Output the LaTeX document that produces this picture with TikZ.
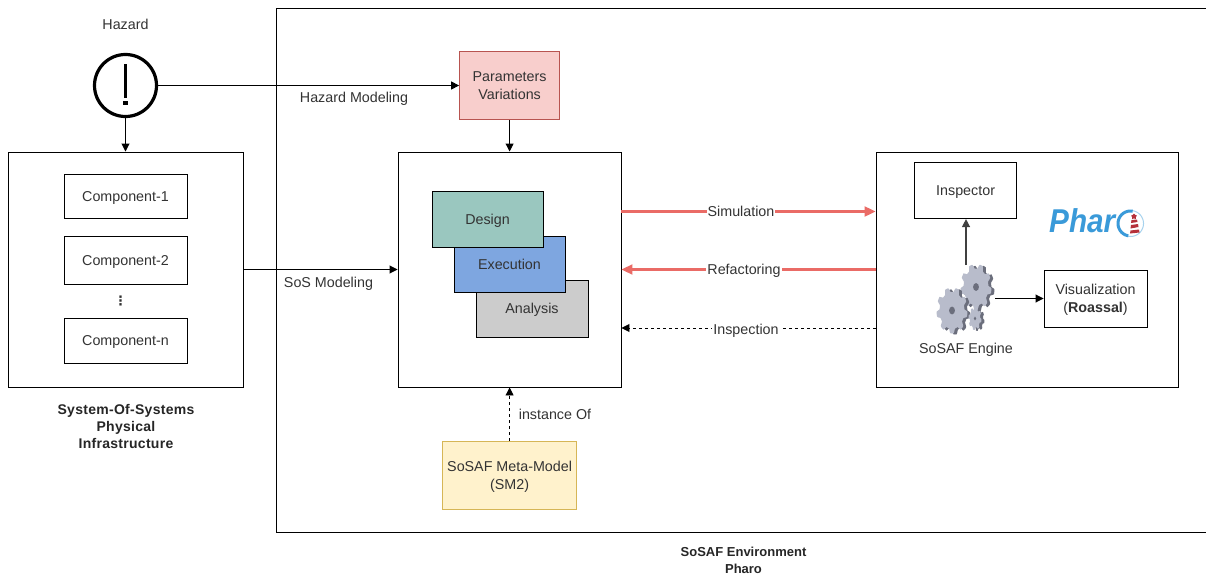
\documentclass[tikz,border=0pt]{standalone}
\usepackage{fontspec}
\usepackage{graphicx}
\setmainfont{Liberation Sans}
\usetikzlibrary{arrows.meta,shapes.geometric}
\definecolor{txt}{HTML}{333333}
\definecolor{redarrow}{HTML}{EA6B66}
\definecolor{gearfront}{HTML}{B8BCCB}
\definecolor{gearback}{HTML}{6B6E7C}
\definecolor{pharoblue}{HTML}{3A9AD9}
\definecolor{pinkfill}{HTML}{F8CECC}
\definecolor{pinkline}{HTML}{B85450}
\definecolor{yelfill}{HTML}{FFF2CC}
\definecolor{yelline}{HTML}{D6B656}
\definecolor{tealfill}{HTML}{9AC7BF}
\definecolor{bluefill}{HTML}{7EA6E0}
\definecolor{grayfill}{HTML}{CCCCCC}
\definecolor{lampred}{HTML}{B5303A}
\tikzset{
  px/.style={x=1pt,y=-1pt},
  lbl/.style={text=txt,font=\fontsize{14.3}{17}\selectfont,align=center,inner sep=0pt,text depth=0pt},
  captiontxt/.style={text=black!85,font=\fontsize{13}{17}\bfseries\selectfont,align=center,inner sep=0pt},
  boxn/.style={draw=black,line width=0.95pt,fill=white,inner sep=0pt,text=txt,font=\fontsize{14.3}{18}\selectfont,align=center,text depth=0pt},
  arr/.style={-{Triangle[length=8pt,width=8pt]},line width=0.95pt,black},
  redarr/.style={-{Triangle[length=11pt,width=10pt]},line width=2.2pt,redarrow},
  dasharr/.style={arr,dash pattern=on 3pt off 3pt},
  onarrow/.style={lbl,fill=white,inner xsep=1pt,inner ysep=0pt},
  gearanchor/.style={ellipse,inner sep=0pt,draw=none},
}
\newcommand{\gearshape}[5]{% cx cy rx ry teeth
  \fill[gearback] plot[domain=0:360,samples=121] ({#1+3+#3*(0.9+0.1*min(1,max(-1,2*sin(#5*\x))))*cos(\x)},{#2+1+#4*(0.9+0.1*min(1,max(-1,2*sin(#5*\x))))*sin(\x)}) -- cycle;
  \fill[gearfront] plot[domain=0:360,samples=121] ({#1+#3*(0.9+0.1*min(1,max(-1,2*sin(#5*\x))))*cos(\x)},{#2+#4*(0.9+0.1*min(1,max(-1,2*sin(#5*\x))))*sin(\x)}) -- cycle;
  \fill[gearback] (#1,#2) ellipse [x radius=#3*0.19,y radius=#4*0.17];
}
\begin{document}
\begin{tikzpicture}[px]
\useasboundingbox (0,0) rectangle (1206,575);
\fill[white] (0,0) rectangle (1206,575);

% environment frame, open at the right edge
\draw[line width=0.95pt,black] (1207,8) -- (276,8) -- (276,532) -- (1207,532);

% hazard
\node[lbl] (hazardlbl) at (125.5,24) {Hazard};
\node[circle,draw=black,line width=3.2pt,fill=white,minimum size=62pt,inner sep=0pt] (hazard) at (125.5,85.5) {};
\fill[black] (123.6,64) rectangle (127.4,98);
\fill[black] (123.4,101.5) rectangle (127.6,105.5);

% left box
\node[boxn,minimum width=235pt,minimum height=235pt] (sos) at (125.5,269.5) {};
\node[boxn,minimum width=123pt,minimum height=44pt] (c1) at (125.5,196) {\raisebox{-0.8pt}{Component-1}};
\node[boxn,minimum width=123pt,minimum height=48pt] (c2) at (125.5,260) {\raisebox{-0.8pt}{Component-2}};
\node[lbl] (cdots) at (120.5,301) {\fontspec{DejaVu Sans}\fontsize{13}{13}\bfseries\selectfont ⋮};
\node[boxn,minimum width=123pt,minimum height=45pt] (c3) at (125.5,340.5) {\raisebox{-0.8pt}{Component-n}};
\node[captiontxt,font=\fontsize{14}{17}\bfseries\selectfont\addfontfeature{LetterSpace=2}] (soscap) at (126,426) {System-Of-Systems\\Physical\\Infrastructure};

% parameters
\node[boxn,draw=pinkline,fill=pinkfill,minimum width=100pt,minimum height=68pt] (params) at (509.6,85.6) {Parameters\\Variations};

% core box
\node[boxn,minimum width=223pt,minimum height=235pt] (core) at (509.5,269.5) {};
\node[boxn,fill=grayfill,minimum width=112pt,minimum height=57pt] (analysis) at (532,308.5) {Analysis};
\node[boxn,fill=bluefill,minimum width=111pt,minimum height=56pt] (exec) at (509.5,264) {Execution};
\node[boxn,fill=tealfill,minimum width=111pt,minimum height=56pt] (design) at (487.5,219) {Design};

% meta-model
\node[boxn,draw=yelline,fill=yelfill,minimum width=134pt,minimum height=68pt] (meta) at (509.6,475.6) {SoSAF Meta-Model\\(SM2)};

% right box
\node[boxn,minimum width=302pt,minimum height=235pt] (tools) at (1027,269.5) {};
\node[boxn,minimum width=102pt,minimum height=56pt] (insp) at (965.6,190.6) {Inspector};
\node[boxn,minimum width=103pt,minimum height=57pt] (viz) at (1095.5,298.5) {Visualization\\(\textbf{Roassal})};

% gears
\gearshape{976}{287}{15.5}{23}{9}
\gearshape{952}{310.5}{15.5}{23}{9}
\gearshape{975}{318.5}{6.5}{11.5}{8}
\node[gearanchor,minimum width=35pt,minimum height=46pt] (gearT) at (977,287) {};
\node[lbl] (engine) at (966,348.5) {SoSAF Engine};
\coordinate (engUp) at (966,265);
\coordinate (engRight) at (995,298.5);

% Pharo logo
\node[inner sep=0pt,text=pharoblue,font=\fontsize{33}{33}\bfseries\itshape\selectfont,anchor=base west] (phar) at (1049,232) {\scalebox{0.9}[1]{Phar}};
\draw[pharoblue!45,line width=1pt] plot[domain=-80:100,samples=40] ({1130.5+13*cos(\x)},{223.5+13*sin(\x)});
\draw[pharoblue,line width=3pt] plot[domain=100:280,samples=40] ({1130.5+12.5*cos(\x)},{223.5+12.5*sin(\x)});
\node[star,star points=5,fill=lampred,minimum size=6pt,inner sep=0pt] (lampstar) at (1134,216.5) {};
\fill[lampred] (1131.5,220) -- (1137,219.5) -- (1137.5,222) -- (1131,223) -- cycle;
\fill[lampred] (1131,225) -- (1138,224) -- (1138.5,227) -- (1130.5,228.5) -- cycle;
\fill[lampred] (1130.5,230.5) -- (1139,229.5) -- (1139.5,232.5) -- (1130,233.5) -- cycle;

% connectors
\draw[arr] (hazard.east) -- (params.west |- hazard.east);
\draw[arr] (hazard.south) -- (sos.north);
\draw[arr] (params.south) -- (params.south |- core.north);
\draw[arr] (sos.east) -- (core.west);
\draw[dasharr] (meta.north) -- (meta.north |- core.south);
\draw[redarr] (core.east |- 0,211.5) -- (tools.west |- 0,211.5);
\draw[redarr] (tools.west) -- (core.east);
\draw[dasharr] (tools.west |- 0,328) -- (core.east |- 0,328);
\draw[arr,line width=1.3pt,black!75] (engUp) -- (engUp |- insp.south);
\draw[arr] (engRight) -- (viz.west |- engRight);

% connector labels
\node[lbl] (hazmod) at (354,97) {Hazard Modeling};
\node[lbl] (sosmod) at (328.5,282) {SoS Modeling};
\node[lbl] (instof) at (555,414) {instance Of};
\node[onarrow] (simlbl) at (741,211) {Simulation};
\node[onarrow] (reflbl) at (744,269) {Refactoring};
\node[onarrow] (insplbl) at (746,329.5) {Inspection};

\node[captiontxt] (envcap) at (743.5,560) {SoSAF Environment\\Pharo};
\end{tikzpicture}
\end{document}
